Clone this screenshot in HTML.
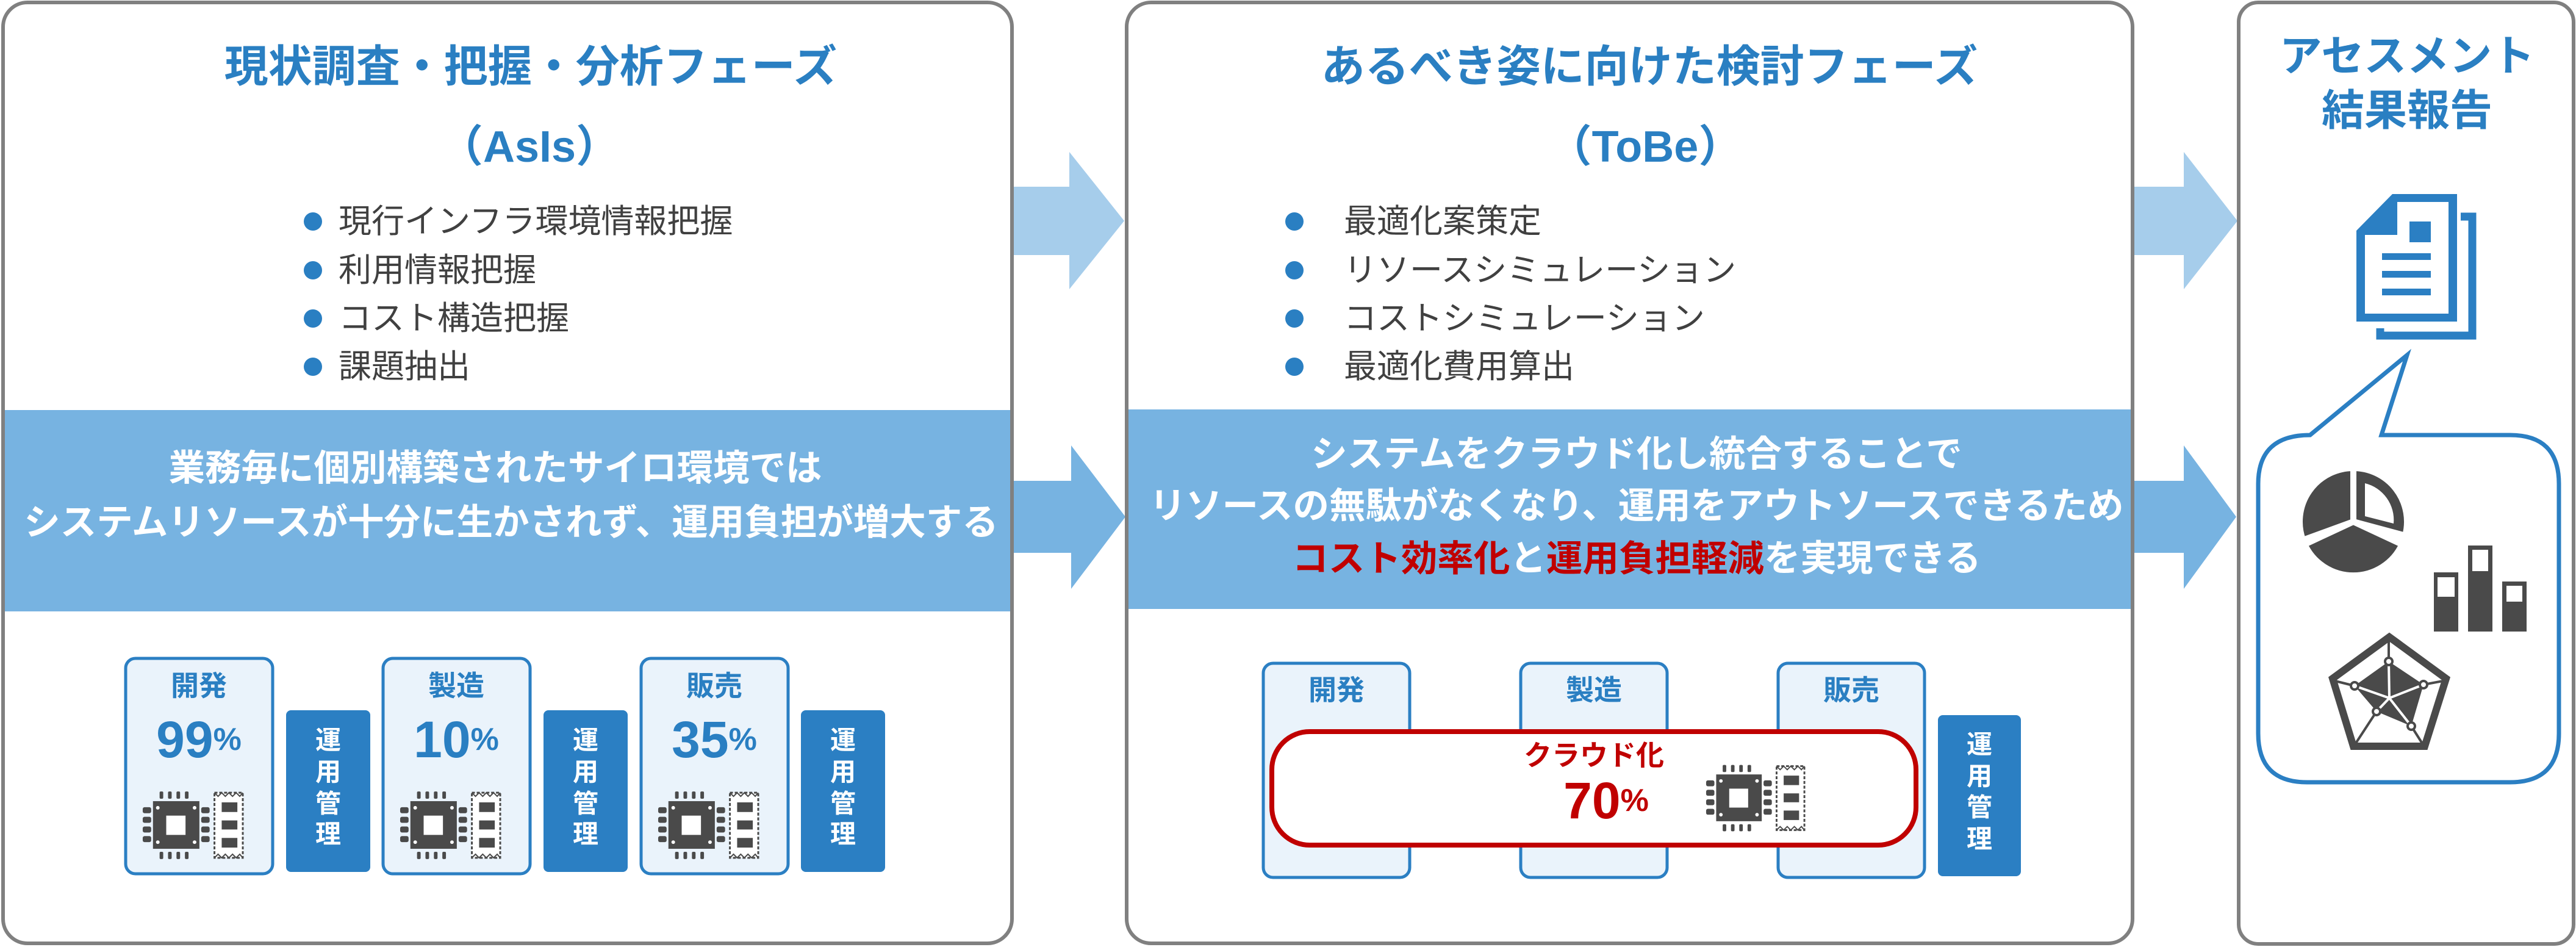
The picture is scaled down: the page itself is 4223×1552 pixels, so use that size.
<!DOCTYPE html>
<html><head><meta charset="utf-8"><style>
html,body{margin:0;padding:0;background:#fff;}
svg{display:block;}
text{font-family:"Liberation Sans","Noto Sans CJK JP",sans-serif;}
</style></head><body>
<svg width="4223" height="1552" viewBox="0 0 4223 1552" xmlns="http://www.w3.org/2000/svg">
<defs>
<symbol id="chip" viewBox="0 0 170 112">
 <g fill="#4a4a4a">
  <rect x="30" y="0" width="6" height="12" rx="2"/><rect x="44" y="0" width="6" height="12" rx="2"/><rect x="58" y="0" width="6" height="12" rx="2"/><rect x="72" y="0" width="6" height="12" rx="2"/>
  <rect x="30" y="100" width="6" height="12" rx="2"/><rect x="44" y="100" width="6" height="12" rx="2"/><rect x="58" y="100" width="6" height="12" rx="2"/><rect x="72" y="100" width="6" height="12" rx="2"/>
  <rect x="2" y="26" width="14" height="10" rx="3"/><rect x="2" y="42" width="14" height="10" rx="3"/><rect x="2" y="58" width="14" height="10" rx="3"/><rect x="2" y="74" width="14" height="10" rx="3"/>
  <rect x="99" y="26" width="14" height="10" rx="3"/><rect x="99" y="42" width="14" height="10" rx="3"/><rect x="99" y="58" width="14" height="10" rx="3"/><rect x="99" y="74" width="14" height="10" rx="3"/>
  <rect x="19" y="16" width="77" height="79"/>
 </g>
 <rect x="41" y="40" width="32" height="32" fill="#fff"/>
 <g fill="#fff"><circle cx="27" cy="27" r="3"/><circle cx="88" cy="27" r="3"/><circle cx="27" cy="84" r="3"/><circle cx="88" cy="84" r="3"/></g>
 <path d="M121,2 H168 V110 H121 Z" fill="#fff" stroke="#4a4a4a" stroke-width="3" stroke-dasharray="5 3"/>
 <path d="M121,2 l6,6 6,-6 6,6 6,-6 6,6 6,-6 6,6 5,-6 M121,110 l6,-6 6,6 6,-6 6,6 6,-6 6,6 6,-6 5,6" fill="none" stroke="#4a4a4a" stroke-width="2"/>
 <g fill="#4a4a4a"><rect x="133" y="18" width="26" height="16"/><rect x="133" y="48" width="26" height="15"/><rect x="133" y="77" width="26" height="16"/></g>
</symbol>
</defs>

<rect x="5" y="4" width="1654" height="1542" rx="40" fill="#fff"/>
<rect x="1847" y="4" width="1649" height="1542" rx="40" fill="#fff"/>
<rect x="3670" y="4" width="549" height="1543" rx="32" fill="#fff"/>

<rect x="7" y="672" width="1652" height="330" fill="#77b3e1"/>
<rect x="1846" y="671" width="1651" height="327" fill="#77b3e1"/>

<polygon points="1662,306 1753,306 1753,249 1843,362 1753,474 1753,418 1662,418" fill="#a6cdeb"/>
<polygon points="1660,788 1756,788 1756,730 1845,847 1756,965 1756,906 1660,906" fill="#77b3e1"/>
<polygon points="3498,306 3580,306 3580,249 3668,362 3580,474 3580,418 3498,418" fill="#a6cdeb"/>
<polygon points="3498,788 3580,788 3580,730 3666,847 3580,965 3580,906 3498,906" fill="#77b3e1"/>

<rect x="5" y="4" width="1654" height="1542" rx="40" fill="none" stroke="#808080" stroke-width="6"/>
<rect x="1847" y="4" width="1649" height="1542" rx="40" fill="none" stroke="#808080" stroke-width="6"/>
<rect x="3670" y="4" width="549" height="1543" rx="32" fill="none" stroke="#808080" stroke-width="6"/>

<g fill="#2a7fc2" font-weight="bold" text-anchor="middle" dominant-baseline="central">
 <text x="870" y="110" font-size="72">現状調査・把握・分析フェーズ</text>
 <text x="868" y="241" font-size="72">（AsIs）</text>
 <text x="2704" y="110" font-size="72">あるべき姿に向けた検討フェーズ</text>
 <text x="2697" y="241" font-size="72">（ToBe）</text>
 <text x="3946" y="92" font-size="70">アセスメント</text>
 <text x="3946" y="181" font-size="70">結果報告</text>
</g>

<g fill="#2a7fc2">
 <circle cx="513" cy="363" r="15"/><circle cx="513" cy="443" r="15"/><circle cx="513" cy="522" r="15"/><circle cx="513" cy="601" r="15"/>
 <circle cx="2122" cy="363" r="15"/><circle cx="2122" cy="443" r="15"/><circle cx="2122" cy="522" r="15"/><circle cx="2122" cy="601" r="15"/>
</g>
<g fill="#404040" font-size="54" dominant-baseline="central">
 <text x="555" y="363">現行インフラ環境情報把握</text>
 <text x="555" y="443">利用情報把握</text>
 <text x="555" y="522">コスト構造把握</text>
 <text x="555" y="601">課題抽出</text>
 <text x="2203" y="363">最適化案策定</text>
 <text x="2203" y="443">リソースシミュレーション</text>
 <text x="2203" y="522">コストシミュレーション</text>
 <text x="2203" y="601">最適化費用算出</text>
</g>

<g fill="#fff" font-weight="bold" font-size="59.5" text-anchor="middle" dominant-baseline="central">
 <text x="812" y="767">業務毎に個別構築されたサイロ環境では</text>
 <text x="838" y="856">システムリソースが十分に生かされず、運用負担が増大する</text>
 <text x="2683" y="744">システムをクラウド化し統合することで</text>
 <text x="2683" y="829">リソースの無駄がなくなり、運用をアウトソースできるため</text>
 <text x="2683" y="915"><tspan fill="#c00000">コスト効率化</tspan>と<tspan fill="#c00000">運用負担軽減</tspan>を実現できる</text>
</g>

<g>
 <rect x="206" y="1079" width="241" height="353" rx="16" fill="#eaf3fb" stroke="#2b7fc3" stroke-width="5"/>
 <rect x="628" y="1079" width="241" height="353" rx="16" fill="#eaf3fb" stroke="#2b7fc3" stroke-width="5"/>
 <rect x="1051" y="1079" width="241" height="353" rx="16" fill="#eaf3fb" stroke="#2b7fc3" stroke-width="5"/>
 <rect x="469" y="1164" width="138" height="265" rx="8" fill="#2b7fc3"/>
 <rect x="891" y="1164" width="138" height="265" rx="8" fill="#2b7fc3"/>
 <rect x="1313" y="1164" width="138" height="265" rx="8" fill="#2b7fc3"/>
</g>
<g fill="#2a7fc2" font-weight="bold" text-anchor="middle" dominant-baseline="central">
 <text x="326" y="1124" font-size="46">開発</text>
 <text x="748" y="1124" font-size="46">製造</text>
 <text x="1171" y="1124" font-size="46">販売</text>
 <text x="326" y="1212"><tspan font-size="84">99</tspan><tspan font-size="52">%</tspan></text>
 <text x="748" y="1212"><tspan font-size="84">10</tspan><tspan font-size="52">%</tspan></text>
 <text x="1171" y="1212"><tspan font-size="84">35</tspan><tspan font-size="52">%</tspan></text>
</g>
<use href="#chip" x="232" y="1297" width="168" height="111"/>
<use href="#chip" x="654" y="1297" width="168" height="111"/>
<use href="#chip" x="1077" y="1297" width="168" height="111"/>
<g fill="#fff" font-weight="bold" font-size="42" text-anchor="middle" dominant-baseline="central">
 <text x="538" y="1213">運</text><text x="538" y="1265">用</text><text x="538" y="1317">管</text><text x="538" y="1367">理</text>
 <text x="960" y="1213">運</text><text x="960" y="1265">用</text><text x="960" y="1317">管</text><text x="960" y="1367">理</text>
 <text x="1382" y="1213">運</text><text x="1382" y="1265">用</text><text x="1382" y="1317">管</text><text x="1382" y="1367">理</text>
</g>

<rect x="2071" y="1087" width="240" height="351" rx="16" fill="#eaf3fb" stroke="#2b7fc3" stroke-width="5"/>
<rect x="2493" y="1087" width="240" height="351" rx="16" fill="#eaf3fb" stroke="#2b7fc3" stroke-width="5"/>
<rect x="2915" y="1087" width="240" height="351" rx="16" fill="#eaf3fb" stroke="#2b7fc3" stroke-width="5"/>
<rect x="3177" y="1172" width="136" height="264" rx="8" fill="#2b7fc3"/>
<g fill="#2a7fc2" font-weight="bold" font-size="46" text-anchor="middle" dominant-baseline="central">
 <text x="2191" y="1131">開発</text><text x="2613" y="1131">製造</text><text x="3035" y="1131">販売</text>
</g>
<rect x="2085" y="1199" width="1056" height="186" rx="62" fill="#fff" stroke="#c00000" stroke-width="8"/>
<g fill="#c00000" font-weight="bold" text-anchor="middle" dominant-baseline="central">
 <text x="2613" y="1238" font-size="46">クラウド化</text>
 <text x="2633" y="1312"><tspan font-size="84">70</tspan><tspan font-size="52">%</tspan></text>
</g>
<use href="#chip" x="2795" y="1253" width="165" height="110"/>
<g fill="#fff" font-weight="bold" font-size="42" text-anchor="middle" dominant-baseline="central">
 <text x="3245" y="1220">運</text><text x="3245" y="1272">用</text><text x="3245" y="1323">管</text><text x="3245" y="1375">理</text>
</g>

<polygon points="3863,378 3922,318 4028,318 4028,527 3863,527" fill="#2b7fc3"/>
<polygon points="3877,385 3930,385 3930,331 4014,331 4014,514 3877,514" fill="#fff"/>
<rect x="3950" y="363" width="35" height="34" fill="#2b7fc3"/>
<rect x="3905" y="415" width="80" height="11" fill="#2b7fc3"/>
<rect x="3905" y="444" width="80" height="11" fill="#2b7fc3"/>
<rect x="3905" y="473" width="80" height="11" fill="#2b7fc3"/>
<path d="M4034,355 H4053 V550 H3902 V538" fill="none" stroke="#2b7fc3" stroke-width="13"/>

<path d="M3787,713 L3946,582 L3904,713 H4115 Q4195,713 4195,793 V1202 Q4195,1282 4115,1282 H3782 Q3702,1282 3702,1202 V793 Q3702,713 3787,713 Z" fill="#fff" stroke="#2b7fc3" stroke-width="7" stroke-linejoin="miter"/>

<g fill="#4a4a4a" stroke="#fff" stroke-width="10" stroke-linejoin="miter">
 <path d="M3858,855 L3775.3,885.1 A88,88 0 0 1 3858,767 Z"/>
 <path d="M3858,855 L3937.8,892.2 A88,88 0 0 1 3778.2,892.2 Z"/>
 <path d="M3858,855 L3858,767 A88,88 0 0 1 3943,877.8 Z"/>
</g>
<path d="M3877,846 L3877,792 A62,62 0 0 1 3924,858 Z" fill="#fff"/>

<rect x="3990" y="938" width="40" height="97" fill="#4a4a4a"/><rect x="3996" y="946" width="28" height="32" fill="#fff"/>
<rect x="4046" y="894" width="40" height="141" fill="#4a4a4a"/><rect x="4053" y="901" width="26" height="35" fill="#fff"/>
<rect x="4102" y="953" width="40" height="82" fill="#4a4a4a"/><rect x="4109" y="960" width="26" height="26" fill="#fff"/>

<polygon points="3917,1044 3824,1112 3858,1223 3975,1223 4010,1112" fill="none" stroke="#4a4a4a" stroke-width="12"/>
<polygon points="3916,1084 3973,1122 3953,1190 3896,1166 3860,1124" fill="#4a4a4a"/>
<g stroke="#fff" stroke-width="4" fill="none">
 <line x1="3917" y1="1144" x2="3916" y2="1084"/><line x1="3917" y1="1144" x2="3973" y2="1122"/><line x1="3917" y1="1144" x2="3953" y2="1190"/><line x1="3917" y1="1144" x2="3896" y2="1166"/><line x1="3917" y1="1144" x2="3860" y2="1124"/>
</g>
<g stroke="#4a4a4a" stroke-width="4">
 <line x1="3916" y1="1084" x2="3916" y2="1050"/><line x1="3973" y1="1122" x2="4005" y2="1116"/><line x1="3953" y1="1190" x2="3972" y2="1220"/><line x1="3896" y1="1166" x2="3862" y2="1218"/><line x1="3860" y1="1124" x2="3828" y2="1116"/>
</g>
<g fill="#fff" stroke="#4a4a4a" stroke-width="4">
 <circle cx="3916" cy="1084" r="6"/><circle cx="3973" cy="1122" r="6"/><circle cx="3953" cy="1190" r="6"/><circle cx="3896" cy="1166" r="6"/><circle cx="3860" cy="1124" r="6"/>
</g>
</svg>
</body></html>
